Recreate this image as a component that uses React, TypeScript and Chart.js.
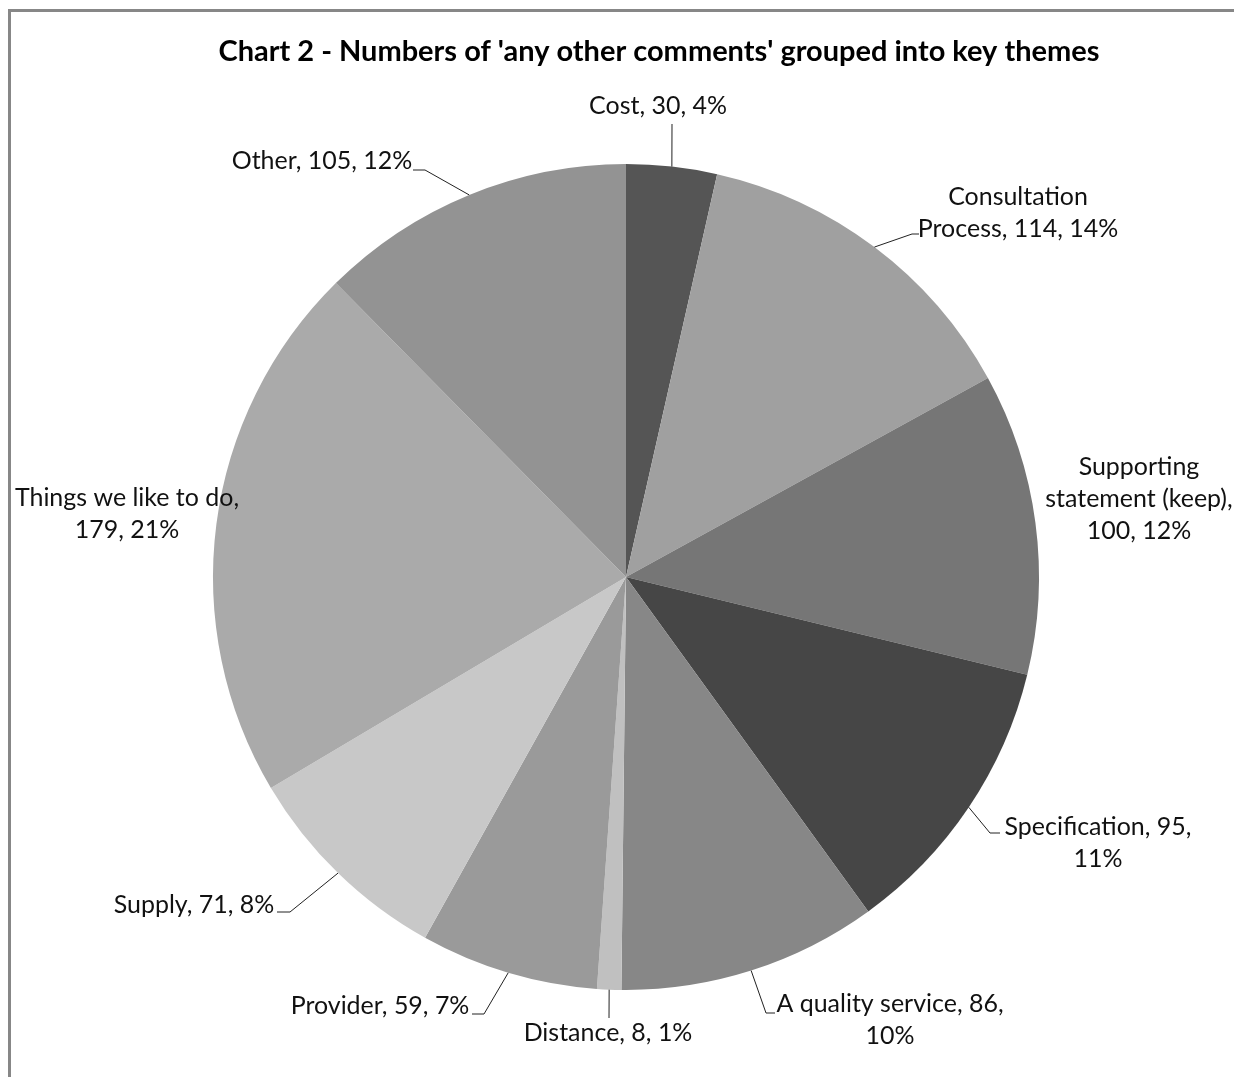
import React, { useEffect, useRef } from "react";
import { Chart, registerables } from "chart.js";

Chart.register(...registerables);

const TITLE = "Chart 2 - Numbers of 'any other comments' grouped into key themes";

const categories = [
  "Cost",
  "Consultation Process",
  "Supporting statement (keep)",
  "Specification",
  "A quality service",
  "Distance",
  "Provider",
  "Supply",
  "Things we like to do",
  "Other",
];
const values = [30, 114, 100, 95, 86, 8, 59, 71, 179, 105];
const percentLabels = [4, 14, 12, 11, 10, 1, 7, 8, 21, 12];
const sliceColors = [
  "#555555",
  "#a0a0a0",
  "#767676",
  "#464646",
  "#878787",
  "#c0c0c0",
  "#9a9a9a",
  "#c8c8c8",
  "#aaaaaa",
  "#939393",
];

// words per line for each label
const labelBreaks = [[3], [1, 3], [1, 2, 2], [2, 1], [4, 1], [3], [3], [3], [5, 2], [3]];
// label layout: centre x, first line centre y
const labelLayout = [
  { x: 658, y: 106 },
  { x: 1018, y: 197 },
  { x: 1139, y: 467 },
  { x: 1098, y: 827 },
  { x: 890, y: 1004 },
  { x: 608, y: 1033 },
  { x: 380, y: 1006 },
  { x: 194, y: 905 },
  { x: 127, y: 498 },
  { x: 322, y: 161 },
];
// leader lines: elbow point and horizontal end x (null = no leader)
const leaderLayout: ({ ex: number; ey: number; endX: number } | null)[] = [
  { ex: 672, ey: 124, endX: 672 },
  { ex: 912, ey: 234, endX: 919 },
  null,
  { ex: 990, ey: 833, endX: 1000 },
  { ex: 766, ey: 1013, endX: 775 },
  { ex: 609, ey: 1018, endX: 609 },
  { ex: 484, ey: 1014, endX: 472 },
  { ex: 290, ey: 912, endX: 277 },
  null,
  { ex: 425, ey: 170, endX: 413 },
];

const FONT = "Lato, 'Open Sans', sans-serif";
const LINE_H = 32;

function fitSize(ctx: CanvasRenderingContext2D, text: string, weight: string, target: number) {
  ctx.font = `${weight} 100px ${FONT}`;
  const w = ctx.measureText(text).width;
  return (100 * target) / w;
}

const labelsPlugin = {
  id: "customLabels",
  beforeDraw(chart: any) {
    const ctx: CanvasRenderingContext2D = chart.ctx;
    ctx.save();
    ctx.fillStyle = "#ffffff";
    ctx.fillRect(0, 0, chart.width, chart.height);
    ctx.fillStyle = "#878787";
    ctx.fillRect(8, 9, chart.width - 8, 3);
    ctx.fillRect(8, 9, 3, chart.height - 9);
    ctx.restore();
  },
  afterDraw(chart: any) {
    const ctx: CanvasRenderingContext2D = chart.ctx;
    ctx.save();
    // title
    const tSize = fitSize(ctx, TITLE, "bold", 881);
    ctx.font = `bold ${tSize}px ${FONT}`;
    ctx.fillStyle = "#000000";
    ctx.textAlign = "center";
    ctx.textBaseline = "middle";
    ctx.fillText(TITLE, 659, 52);

    const lSize = fitSize(ctx, "Specification, 95,", "normal", 187);
    const arcs = chart.getDatasetMeta(0).data;
    arcs.forEach((arc: any, i: number) => {
      const p = arc.getProps(["x", "y", "startAngle", "endAngle", "outerRadius"], true);
      const mid = (p.startAngle + p.endAngle) / 2;
      const sx = p.x + Math.cos(mid) * p.outerRadius;
      const sy = p.y + Math.sin(mid) * p.outerRadius;
      const ld = leaderLayout[i];
      if (ld) {
        ctx.strokeStyle = "#222222";
        ctx.lineWidth = 1;
        ctx.beginPath();
        ctx.moveTo(sx, sy);
        ctx.lineTo(ld.ex, ld.ey);
        ctx.lineTo(ld.endX, ld.ey);
        ctx.stroke();
      }
      const words = `${categories[i]}, ${values[i]}, ${percentLabels[i]}%`.split(" ");
      const lines: string[] = [];
      let k = 0;
      for (const n of labelBreaks[i]) {
        lines.push(words.slice(k, k + n).join(" "));
        k += n;
      }
      ctx.font = `normal ${lSize}px ${FONT}`;
      ctx.fillStyle = "#111111";
      ctx.textAlign = "center";
      ctx.textBaseline = "middle";
      lines.forEach((ln, j) => {
        ctx.fillText(ln, labelLayout[i].x, labelLayout[i].y + j * LINE_H);
      });
    });
    ctx.restore();
  },
};

export default function App() {
  const ref = useRef<HTMLCanvasElement | null>(null);
  useEffect(() => {
    if (!ref.current) return;
    const chart = new Chart(ref.current, {
      type: "pie",
      data: {
        labels: categories,
        datasets: [
          {
            data: values,
            backgroundColor: sliceColors,
            borderWidth: 0,
            hoverBorderWidth: 0,
            hoverOffset: 0,
            offset: 0,
          },
        ],
      },
      options: {
        responsive: false,
        animation: false,
        devicePixelRatio: 1,
        layout: { padding: { left: 213, right: 195, top: 164, bottom: 87 } },
        plugins: {
          legend: { display: false },
          title: { display: false },
          tooltip: { enabled: false },
        },
        events: [],
      },
      plugins: [labelsPlugin],
    });
    return () => chart.destroy();
  }, []);
  return (
    <div style={{ position: "fixed", left: 0, top: 0, width: 1234, height: 1077, background: "#fff", overflow: "hidden" }}>
      <canvas ref={ref} width={1234} height={1077} style={{ display: "block", width: 1234, height: 1077 }} />
    </div>
  );
}
